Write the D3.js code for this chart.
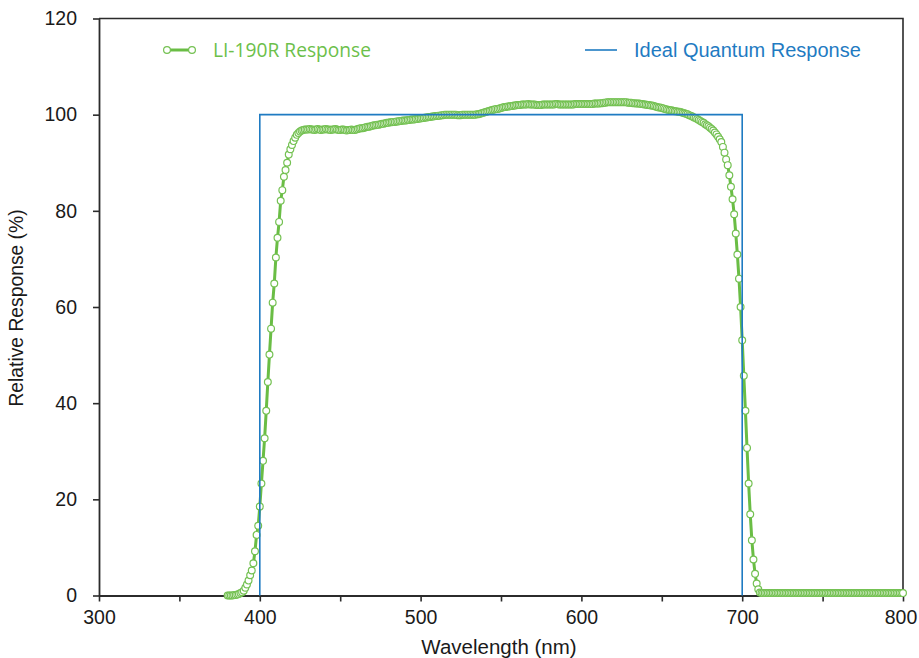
<!DOCTYPE html>
<html><head><meta charset="utf-8">
<script src="https://cdn.jsdelivr.net/npm/d3@7"></script>
<style>body{margin:0;background:#fff}svg{display:block}</style>
</head><body>
<svg id="c" width="919" height="658"></svg>
<script>
// ---- data ----
const wavelengthStart = 380; // nm, 1 nm step
const li190rResponse = [
  0,0,0,0,0.1,0.1,0.2,0.3,0.5,0.7,
  1.0,1.6,2.3,3.1,4.2,5.2,6.7,9.2,12.6,14.5,
  18.5,23.3,28.0,32.7,38.4,44.4,50.1,55.5,60.9,64.9,
  70.3,74.4,77.7,82.1,84.3,87.1,88.5,90.0,91.7,92.8,
  93.7,94.5,95.2,95.8,96.2,96.5,96.7,96.8,96.9,96.9,
  96.9,97.0,96.9,96.9,96.8,96.9,97.0,96.9,96.8,96.9,
  96.9,97.0,96.9,96.9,96.8,96.9,96.9,97.0,96.9,96.8,
  96.8,96.9,96.9,96.8,96.7,96.8,96.8,96.9,96.8,96.8,
  96.9,97.0,97.1,97.2,97.2,97.3,97.4,97.5,97.5,97.6,
  97.7,97.8,97.8,97.9,97.9,98.0,98.1,98.1,98.2,98.3,
  98.3,98.4,98.4,98.5,98.5,98.6,98.6,98.7,98.7,98.8,
  98.8,98.8,98.9,98.9,99.0,99.0,99.0,99.1,99.1,99.2,
  99.2,99.3,99.3,99.4,99.4,99.5,99.5,99.6,99.6,99.7,
  99.7,99.8,99.8,99.9,99.9,100.0,100.0,100.0,100.0,100.0,
  100.0,100.0,100.0,99.9,99.9,99.9,100.0,100.0,100.0,100.0,
  100.0,100.0,100.0,100.0,100.0,100.1,100.1,100.2,100.3,100.4,
  100.5,100.6,100.7,100.8,100.9,101.0,101.1,101.2,101.2,101.3,
  101.4,101.5,101.6,101.6,101.7,101.7,101.8,101.8,101.9,101.9,
  102.0,102.0,102.0,102.1,102.1,102.1,102.1,102.2,102.1,102.1,
  102.1,102.1,102.0,102.0,102.0,102.0,102.1,102.1,102.1,102.1,
  102.1,102.1,102.1,102.1,102.2,102.2,102.1,102.1,102.1,102.1,
  102.1,102.1,102.1,102.1,102.1,102.1,102.2,102.2,102.2,102.2,
  102.2,102.2,102.2,102.2,102.2,102.2,102.2,102.2,102.3,102.3,
  102.3,102.3,102.4,102.4,102.5,102.5,102.6,102.6,102.6,102.6,
  102.6,102.6,102.6,102.6,102.6,102.6,102.6,102.6,102.6,102.5,
  102.5,102.5,102.4,102.4,102.3,102.3,102.3,102.2,102.2,102.1,
  102.1,102.0,102.0,101.9,101.9,101.8,101.7,101.6,101.5,101.5,
  101.4,101.3,101.2,101.1,101.0,100.9,100.9,100.8,100.7,100.7,
  100.6,100.6,100.5,100.4,100.3,100.2,100.1,99.9,99.8,99.6,
  99.4,99.3,99.1,98.9,98.7,98.5,98.3,98.0,97.8,97.6,
  97.3,97.0,96.7,96.3,95.9,95.4,94.9,94.3,93.3,92.1,
  90.7,89.5,87.4,85.0,82.4,79.3,75.3,70.9,65.9,60.0,
  53.1,45.7,38.4,30.7,23.3,16.9,11.5,7.5,4.5,2.5,
  1.3,0.6,0.5,0.5,0.5,0.5,0.5,0.5,0.5,0.5,
  0.5,0.5,0.5,0.5,0.5,0.5,0.5,0.5,0.5,0.5,
  0.5,0.5,0.5,0.5,0.5,0.5,0.5,0.5,0.5,0.5,
  0.5,0.5,0.5,0.5,0.5,0.5,0.5,0.5,0.5,0.5,
  0.5,0.5,0.5,0.5,0.5,0.5,0.5,0.5,0.5,0.5,
  0.5,0.5,0.5,0.5,0.5,0.5,0.5,0.5,0.5,0.5,
  0.5,0.5,0.5,0.5,0.5,0.5,0.5,0.5,0.5,0.5,
  0.5,0.5,0.5,0.5,0.5,0.5,0.5,0.5,0.5,0.5,
  0.5,0.5,0.5,0.5,0.5,0.5,0.5,0.5,0.5,0.5,
  0.5
];
const idealWavelengths = [400, 400, 700, 700];
const idealResponse = [0, 100, 100, 0];
const xTickValues = [300, 350, 400, 450, 500, 550, 600, 650, 700, 750, 800];
const xTickLabels = [300, 400, 500, 600, 700, 800];
const yTickValues = [0, 20, 40, 60, 80, 100, 120];
const seriesNames = ["LI-190R Response", "Ideal Quantum Response"];
const xTitle = "Wavelength (nm)";
const yTitle = "Relative Response (%)";

// ---- drawing ----
const GREEN = "#6abd45", GREEN_TXT = "#6cc04a", BLUE = "#1f7bc2", AX = "#2b2b2b";
const FONT = "'Liberation Sans', Arial, sans-serif";
const svg = d3.select("#c");
const L = 99, R = 903, T = 18.5, B = 595.5;
const x = d3.scaleLinear().domain([300, 800]).range([L, R]);
const y = d3.scaleLinear().domain([0, 120]).range([B, T]);

const li = li190rResponse.map((v, i) => ({ w: wavelengthStart + i, v }));
const ideal = idealWavelengths.map((w, i) => ({ w, v: idealResponse[i] }));

// frame
svg.append("path").attr("d", `M${L},${T}H${R}V${B}`).attr("fill", "none")
  .attr("stroke", AX).attr("stroke-width", 1.6);

// axes
const xAxis = d3.axisBottom(x).tickValues(xTickValues).tickSize(6).tickSizeOuter(0)
  .tickFormat(d => xTickLabels.includes(d) ? d : "");
const gx = svg.append("g").attr("transform", `translate(0,${B})`).call(xAxis);
const yAxis = d3.axisLeft(y).tickValues(yTickValues).tickSize(6).tickSizeOuter(0).tickPadding(16);
const gy = svg.append("g").attr("transform", `translate(${L},0)`).call(yAxis);
[gx, gy].forEach(g => {
  g.select(".domain").attr("stroke", AX).attr("stroke-width", 1.8);
  g.selectAll(".tick line").attr("stroke", AX).attr("stroke-width", 1.6);
  g.selectAll(".tick text").attr("fill", "#1a1a1a").attr("font-family", FONT).attr("font-size", 19.5);
});
gx.selectAll(".tick text").attr("dy", "1em").attr("y", 9)
  .attr("dx", d => d === 800 ? -2.5 : 0);

// titles
svg.append("text").attr("x", 499).attr("y", 654).attr("text-anchor", "middle")
  .attr("font-family", FONT).attr("font-size", 20.5).attr("fill", "#1a1a1a").text(xTitle);
svg.append("text").attr("transform", `translate(23,308) rotate(-90)`)
  .attr("text-anchor", "middle").attr("font-family", FONT).attr("font-size", 19.3)
  .attr("fill", "#1a1a1a").text(yTitle);

// green series
const line = d3.line().x(d => x(d.w)).y(d => y(d.v));
svg.append("path").datum(li).attr("d", line).attr("fill", "none")
  .attr("stroke", GREEN).attr("stroke-width", 3);
svg.append("g").selectAll("circle").data(li).join("circle")
  .attr("cx", d => x(d.w)).attr("cy", d => y(d.v)).attr("r", 3.4)
  .attr("fill", "#fff").attr("stroke", "#74c152").attr("stroke-width", 1.2);

// ideal
svg.append("path").datum(ideal).attr("d", line).attr("fill", "none")
  .attr("stroke", BLUE).attr("stroke-width", 1.6);

// legend
const lg = svg.append("g");
lg.append("line").attr("x1", 167).attr("x2", 192).attr("y1", 50).attr("y2", 50)
  .attr("stroke", GREEN).attr("stroke-width", 3);
[167, 192].forEach(cx => lg.append("circle").attr("cx", cx).attr("cy", 50).attr("r", 3.4)
  .attr("fill", "#fff").attr("stroke", "#74c152").attr("stroke-width", 1.2));
lg.append("text").attr("x", 213).attr("y", 56.5).attr("font-family", "'Open Sans', sans-serif")
  .attr("font-size", 19.2).attr("fill", GREEN_TXT).text(seriesNames[0]);
lg.append("line").attr("x1", 585).attr("x2", 617).attr("y1", 50).attr("y2", 50)
  .attr("stroke", BLUE).attr("stroke-width", 1.6);
lg.append("text").attr("x", 634).attr("y", 56.5).attr("font-family", FONT)
  .attr("font-size", 20).attr("fill", BLUE).text(seriesNames[1]);
</script>
</body></html>
